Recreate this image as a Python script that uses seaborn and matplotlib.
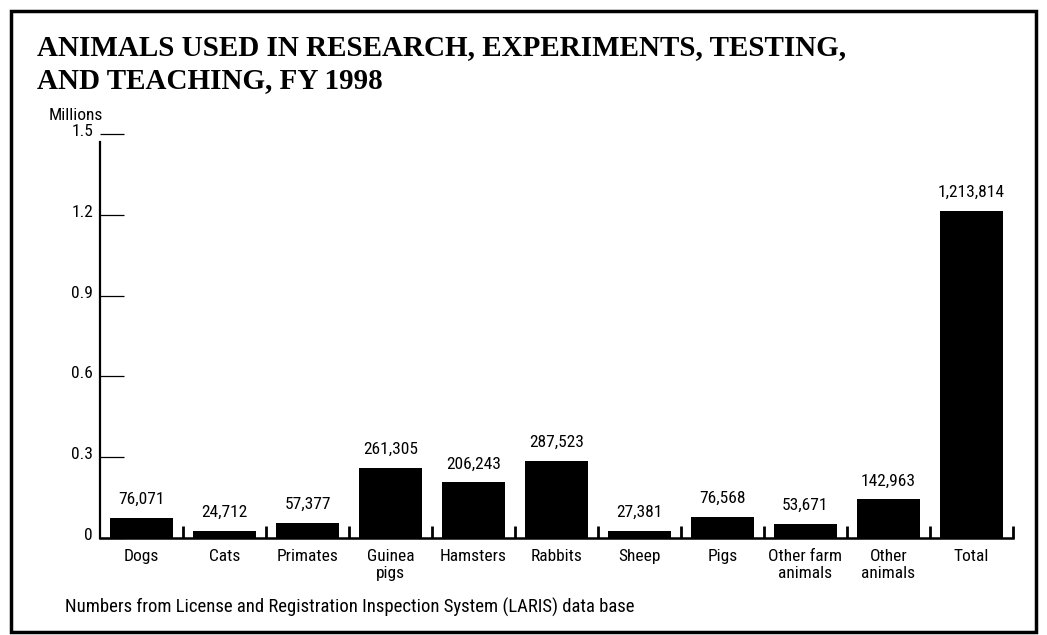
import matplotlib
matplotlib.use("Agg")
import matplotlib.pyplot as plt
from matplotlib import font_manager
import matplotlib.transforms as mtransforms
import seaborn as sns
import pandas as pd
import numpy as np

categories = ["Dogs", "Cats", "Primates", "Guinea\npigs", "Hamsters", "Rabbits",
              "Sheep", "Pigs", "Other farm\nanimals", "Other\nanimals", "Total"]
counts = [76071, 24712, 57377, 261305, 206243, 287523, 27381, 76568, 53671, 142963, 1213814]
yticks = [0, 0.3, 0.6, 0.9, 1.2, 1.5]
ytick_labels = ["0", "0.3", "0.6", "0.9", "1.2", "1.5"]

title_lines = ["ANIMALS USED IN RESEARCH, EXPERIMENTS, TESTING,", "AND TEACHING, FY 1998"]
footnote = "Numbers from License and Registration Inspection System (LARIS) data base"

sns.set_theme(style="white")
names = {f.name for f in font_manager.fontManager.ttflist}
narrow = [n for n in ["Liberation Sans Narrow", "Roboto Condensed", "Arial Narrow"] if n in names]
SANS = narrow + ["Roboto", "DejaVu Sans"]
plt.rcParams["font.family"] = SANS

W, H = 1047, 635
fig = plt.figure(figsize=(W / 100, H / 100), dpi=100)

def px(x, y):
    return x / W, 1 - y / H

# frame
fig.patches.append(plt.Rectangle(px(11, 632), (1036 - 11) / W, (632 - 11) / H,
                                 transform=fig.transFigure, fill=False, lw=2.5, ec="black"))

x0, x1, y0, y1 = 100, 1013, 538, 134
ax = fig.add_axes([x0 / W, 1 - y0 / H, (x1 - x0) / W, (y0 - y1) / H])

df = pd.DataFrame({"animal": categories, "millions": np.array(counts) / 1e6})
sns.barplot(data=df, x="animal", y="millions", color="black", width=0.76,
            saturation=1, ax=ax, edgecolor="black", linewidth=0)

ax.set_xlim(-0.5, 10.5)
ax.set_ylim(0, 1.5)
for s in ["top", "right"]:
    ax.spines[s].set_visible(False)
ax.spines["left"].set_linewidth(1.6)
ax.spines["bottom"].set_linewidth(1.8)
ax.spines["left"].set_color("black")
ax.spines["bottom"].set_color("black")
ax.spines["left"].set_bounds(0, 1.47)
ax.set_xlabel("")
ax.set_ylabel("")

ax.set_yticks(yticks)
ax.set_yticklabels(ytick_labels)
ax.tick_params(axis="y", direction="in", length=17, width=0.9, color="black",
               labelsize=12.5, pad=5, labelcolor="black", left=True)
shift = mtransforms.ScaledTranslation(0, 2.5 / 100, fig.dpi_scale_trans)
for lab in ax.get_yticklabels():
    lab.set_verticalalignment("center")
    lab.set_transform(lab.get_transform() + shift)

ax.set_xticks(range(len(categories)))
ax.set_xticklabels(categories, linespacing=1.15)
ax.set_xticks(np.arange(len(categories)) + 0.5, minor=True)
ax.tick_params(axis="x", which="major", length=0, labelsize=12.5, pad=8, labelcolor="black")
ax.tick_params(axis="x", which="minor", direction="in", length=9, width=2,
               color="black", bottom=True)

for i, v in enumerate(counts):
    ax.annotate(f"{v:,}", (i, v / 1e6), xytext=(0, 8), textcoords="offset points",
                ha="center", va="bottom", fontsize=12.5, color="black")

fig.text(*px(37, 55), title_lines[0], family="Liberation Serif", weight="bold",
         fontsize=21, va="baseline", ha="left", color="black")
fig.text(*px(37, 88), title_lines[1], family="Liberation Serif", weight="bold",
         fontsize=21, va="baseline", ha="left", color="black")
fig.text(*px(49, 116), "Millions", fontsize=12.5, va="center", ha="left", color="black")
fig.text(*px(65, 607), footnote, fontsize=13.5, va="center", ha="left", color="black")

fig.savefig("out.png", dpi=100)
